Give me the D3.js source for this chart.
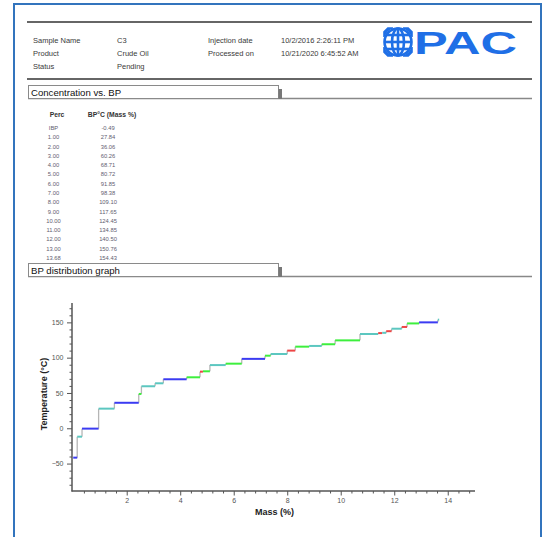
<!DOCTYPE html>
<html><head><meta charset="utf-8">
<script src="https://cdn.jsdelivr.net/npm/d3@7/dist/d3.min.js"></script>
<style>html,body{margin:0;padding:0;background:#fff;}svg{display:block;font-family:"Liberation Sans",Arial,sans-serif;}</style>
</head><body>
<svg id="c" width="544" height="537"></svg>
<script>
// ---- data ----
const infoLabels = ["Sample Name", "Product", "Status"];
const infoValues = ["C3", "Crude Oil", "Pending"];
const infoLabels2 = ["Injection date", "Processed on"];
const infoValues2 = ["10/2/2016 2:26:11 PM", "10/21/2020 6:45:52 AM"];
const sectionTitles = ["Concentration vs. BP", "BP distribution graph"];
const tableHeaders = ["Perc", "BP°C (Mass %)"];
const percLabels = ["IBP","1.00","2.00","3.00","4.00","5.00","6.00","7.00","8.00","9.00","10.00","11.00","12.00","13.00","13.68"];
const bpValues = ["-0.49","27.84","36.06","60.26","68.71","80.72","91.85","98.38","109.10","117.65","124.45","134.85","140.50","150.76","154.43"];
// stepped BP curve: start mass of each step, its temperature, and its segment class
const stepMass = [0.00,0.15,0.33,0.95,1.54,2.45,2.55,3.06,3.37,4.24,4.74,4.85,5.11,5.70,6.30,7.17,7.38,8.00,8.30,8.82,9.29,9.79,10.72,11.40,11.55,11.70,11.90,12.28,12.48,12.93,13.63];
const stepEndMass = 13.68;
const stepTemp = [-41.6,-11.9,-0.5,27.8,36.1,48.6,59.5,63.7,69.4,72.2,80.2,80.7,89.5,91.5,98.3,102.8,105.2,110.0,115.6,116.6,119.0,124.5,133.5,134.8,135.2,137.5,141.0,143.5,148.5,150.0,153.8];
const stepClass = ["B","T","B","T","B","G","T","T","B","G","R","G","T","G","B","G","T","R","G","T","G","G","T","R","T","R","T","R","G","B","T"];
const xMajorTicks = [2,4,6,8,10,12,14];
const yMajorTicks = [-50,0,50,100,150];

// ---- drawing ----
const svg = d3.select("#c");
const FONT = '"Liberation Sans",Arial,sans-serif';

// outer frame
svg.append("rect").attr("x",14).attr("y",4).attr("width",527).attr("height",560)
  .attr("fill","#fff").attr("stroke","#3274bd").attr("stroke-width",2);

// rules
[22, 79].forEach(y => svg.append("line").attr("x1",27).attr("x2",532).attr("y1",y).attr("y2",y)
  .attr("stroke","#666").attr("stroke-width",2));

// info block
const rowsY = [42.5, 55.5, 68.5];
const info = svg.append("g").attr("font-size",7.5).attr("fill","#3a3a3a");
infoLabels.forEach((t,i)=>info.append("text").attr("x",33).attr("y",rowsY[i]).text(t));
infoValues.forEach((t,i)=>info.append("text").attr("x",117).attr("y",rowsY[i]).text(t));
infoLabels2.forEach((t,i)=>info.append("text").attr("x",208).attr("y",rowsY[i]).text(t));
infoValues2.forEach((t,i)=>info.append("text").attr("x",281).attr("y",rowsY[i]).text(t));

// logo
const blue = "#1f6fe6";
const lg = svg.append("g").attr("transform","translate(398,42)");
const R = 13.5;
const gl = lg.append("g").attr("fill","none").attr("stroke",blue).attr("stroke-width",2.6);
gl.append("circle").attr("r",R);
gl.append("ellipse").attr("rx",6).attr("ry",R);
gl.append("line").attr("x1",0).attr("x2",0).attr("y1",-R).attr("y2",R);
[-7,0,7].forEach(y=>{const hw=Math.sqrt(R*R-y*y);gl.append("line").attr("x1",-hw).attr("x2",hw).attr("y1",y).attr("y2",y);});
// blocky corners of the emblem
[[-1,-1],[1,-1],[-1,1],[1,1]].forEach(([sx,sy])=>{
  lg.append("path").attr("fill",blue)
    .attr("d",`M${sx*R},${sy*5} L${sx*(R+1.3)},${sy*5} L${sx*(R+1.3)},${sy*(R-3)} L${sx*(R-3)},${sy*(R+1.3)} L${sx*5},${sy*(R+1.3)} L${sx*5},${sy*R} A${R},${R} 0 0 ${sx*sy>0?0:1} ${sx*R},${sy*5} Z`);
});
svg.append("text").attr("x",414).attr("y",53.5).attr("font-size",31).attr("font-weight","bold")
  .attr("fill",blue).attr("textLength",103).attr("lengthAdjust","spacingAndGlyphs").text("PAC");

// section headers
function sectionHeader(y, title){
  svg.append("line").attr("x1",28).attr("x2",532).attr("y1",y+13.5).attr("y2",y+13.5)
    .attr("stroke","#888").attr("stroke-width",1.5);
  svg.append("rect").attr("x",28.5).attr("y",y+0.5).attr("width",250).attr("height",13)
    .attr("fill","#fff").attr("stroke","#8a8a8a").attr("stroke-width",1);
  svg.append("rect").attr("x",278.5).attr("y",y+4).attr("width",3.5).attr("height",10).attr("fill","#777");
  svg.append("text").attr("x",31).attr("y",y+10.5).attr("font-size",9.6).attr("fill","#111").text(title);
}
sectionHeader(85, sectionTitles[0]);
sectionHeader(263, sectionTitles[1]);

// table
const tb = svg.append("g");
tb.append("text").attr("x",57).attr("y",117).attr("text-anchor","middle").attr("font-size",6.8)
  .attr("font-weight","bold").attr("fill","#333").text(tableHeaders[0]);
tb.append("text").attr("x",112).attr("y",117).attr("text-anchor","middle").attr("font-size",6.8)
  .attr("font-weight","bold").attr("fill","#333").text(tableHeaders[1]);
const rowY = d3.scaleLinear().domain([0,14]).range([130,260]);
percLabels.forEach((t,i)=>tb.append("text").attr("x",53.5).attr("y",rowY(i)).attr("text-anchor","middle")
  .attr("font-size",5.8).attr("fill","#5f6070").text(t));
bpValues.forEach((t,i)=>tb.append("text").attr("x",108).attr("y",rowY(i)).attr("text-anchor","middle")
  .attr("font-size",5.8).attr("fill","#5f6070").text(t));

// chart
const x = d3.scaleLinear().domain([0,15]).range([73.2,474.5]);
const y = d3.scaleLinear().domain([-87,177]).range([489.7,303.3]);
const axisColor = "#555";

const xMinor = d3.range(1,38).map(i=>+(i*0.4).toFixed(1)).filter(v=>!xMajorTicks.includes(v));
const yMinor = d3.range(-80,171,10).filter(v=>!yMajorTicks.includes(v));

const gxMin = svg.append("g").attr("transform","translate(0,491)")
  .call(d3.axisBottom(x).tickValues(xMinor).tickSize(2.5).tickFormat(""));
const gx = svg.append("g").attr("transform","translate(0,491)")
  .call(d3.axisBottom(x).tickValues(xMajorTicks).tickSize(4.5).tickPadding(3).tickFormat(d3.format("d")));
const gyMin = svg.append("g").attr("transform","translate(72,0)")
  .call(d3.axisLeft(y).tickValues(yMinor).tickSize(2.5).tickFormat(""));
const gy = svg.append("g").attr("transform","translate(72,0)")
  .call(d3.axisLeft(y).tickValues(yMajorTicks).tickSize(5).tickPadding(3.5).tickFormat(d3.format("d")));
[gxMin,gx,gyMin,gy].forEach(g=>{
  g.select(".domain").remove();
  g.selectAll(".tick line").attr("stroke",axisColor).attr("stroke-width",1);
  g.selectAll(".tick text").attr("font-size",7).attr("fill","#555").attr("font-family",FONT);
});
svg.append("line").attr("x1",72).attr("x2",72).attr("y1",303).attr("y2",491.5).attr("stroke",axisColor).attr("stroke-width",1.5);
svg.append("line").attr("x1",71.5).attr("x2",475).attr("y1",491).attr("y2",491).attr("stroke",axisColor).attr("stroke-width",1.5);

svg.append("text").attr("x",274.5).attr("y",515).attr("text-anchor","middle").attr("font-size",9)
  .attr("font-weight","bold").attr("fill","#222").text("Mass (%)");
svg.append("text").attr("transform","translate(46.5,394) rotate(-90)").attr("text-anchor","middle")
  .attr("font-size",9).attr("font-weight","bold").attr("fill","#222").text("Temperature (°C)");

const colorOf = d3.scaleOrdinal().domain(["B","T","G","R"]).range(["#3b3bf2","#5cc7c0","#3def3d","#ee4545"]);
const steps = stepMass.map((m,i)=>({x0:m, x1: i<stepMass.length-1 ? stepMass[i+1] : stepEndMass, t:stepTemp[i], c:stepClass[i]}));
const cg = svg.append("g");
// risers
steps.slice(0,-1).forEach((s,i)=>{
  cg.append("line").attr("x1",x(s.x1)).attr("x2",x(s.x1)).attr("y1",y(s.t)).attr("y2",y(steps[i+1].t))
    .attr("stroke","#b5b5b5").attr("stroke-width",1.3);
});
// treads
steps.forEach(s=>{
  cg.append("line").attr("x1",x(s.x0)).attr("x2",x(s.x1)).attr("y1",y(s.t)).attr("y2",y(s.t))
    .attr("stroke",colorOf(s.c)).attr("stroke-width",2);
});
</script>
</body></html>
